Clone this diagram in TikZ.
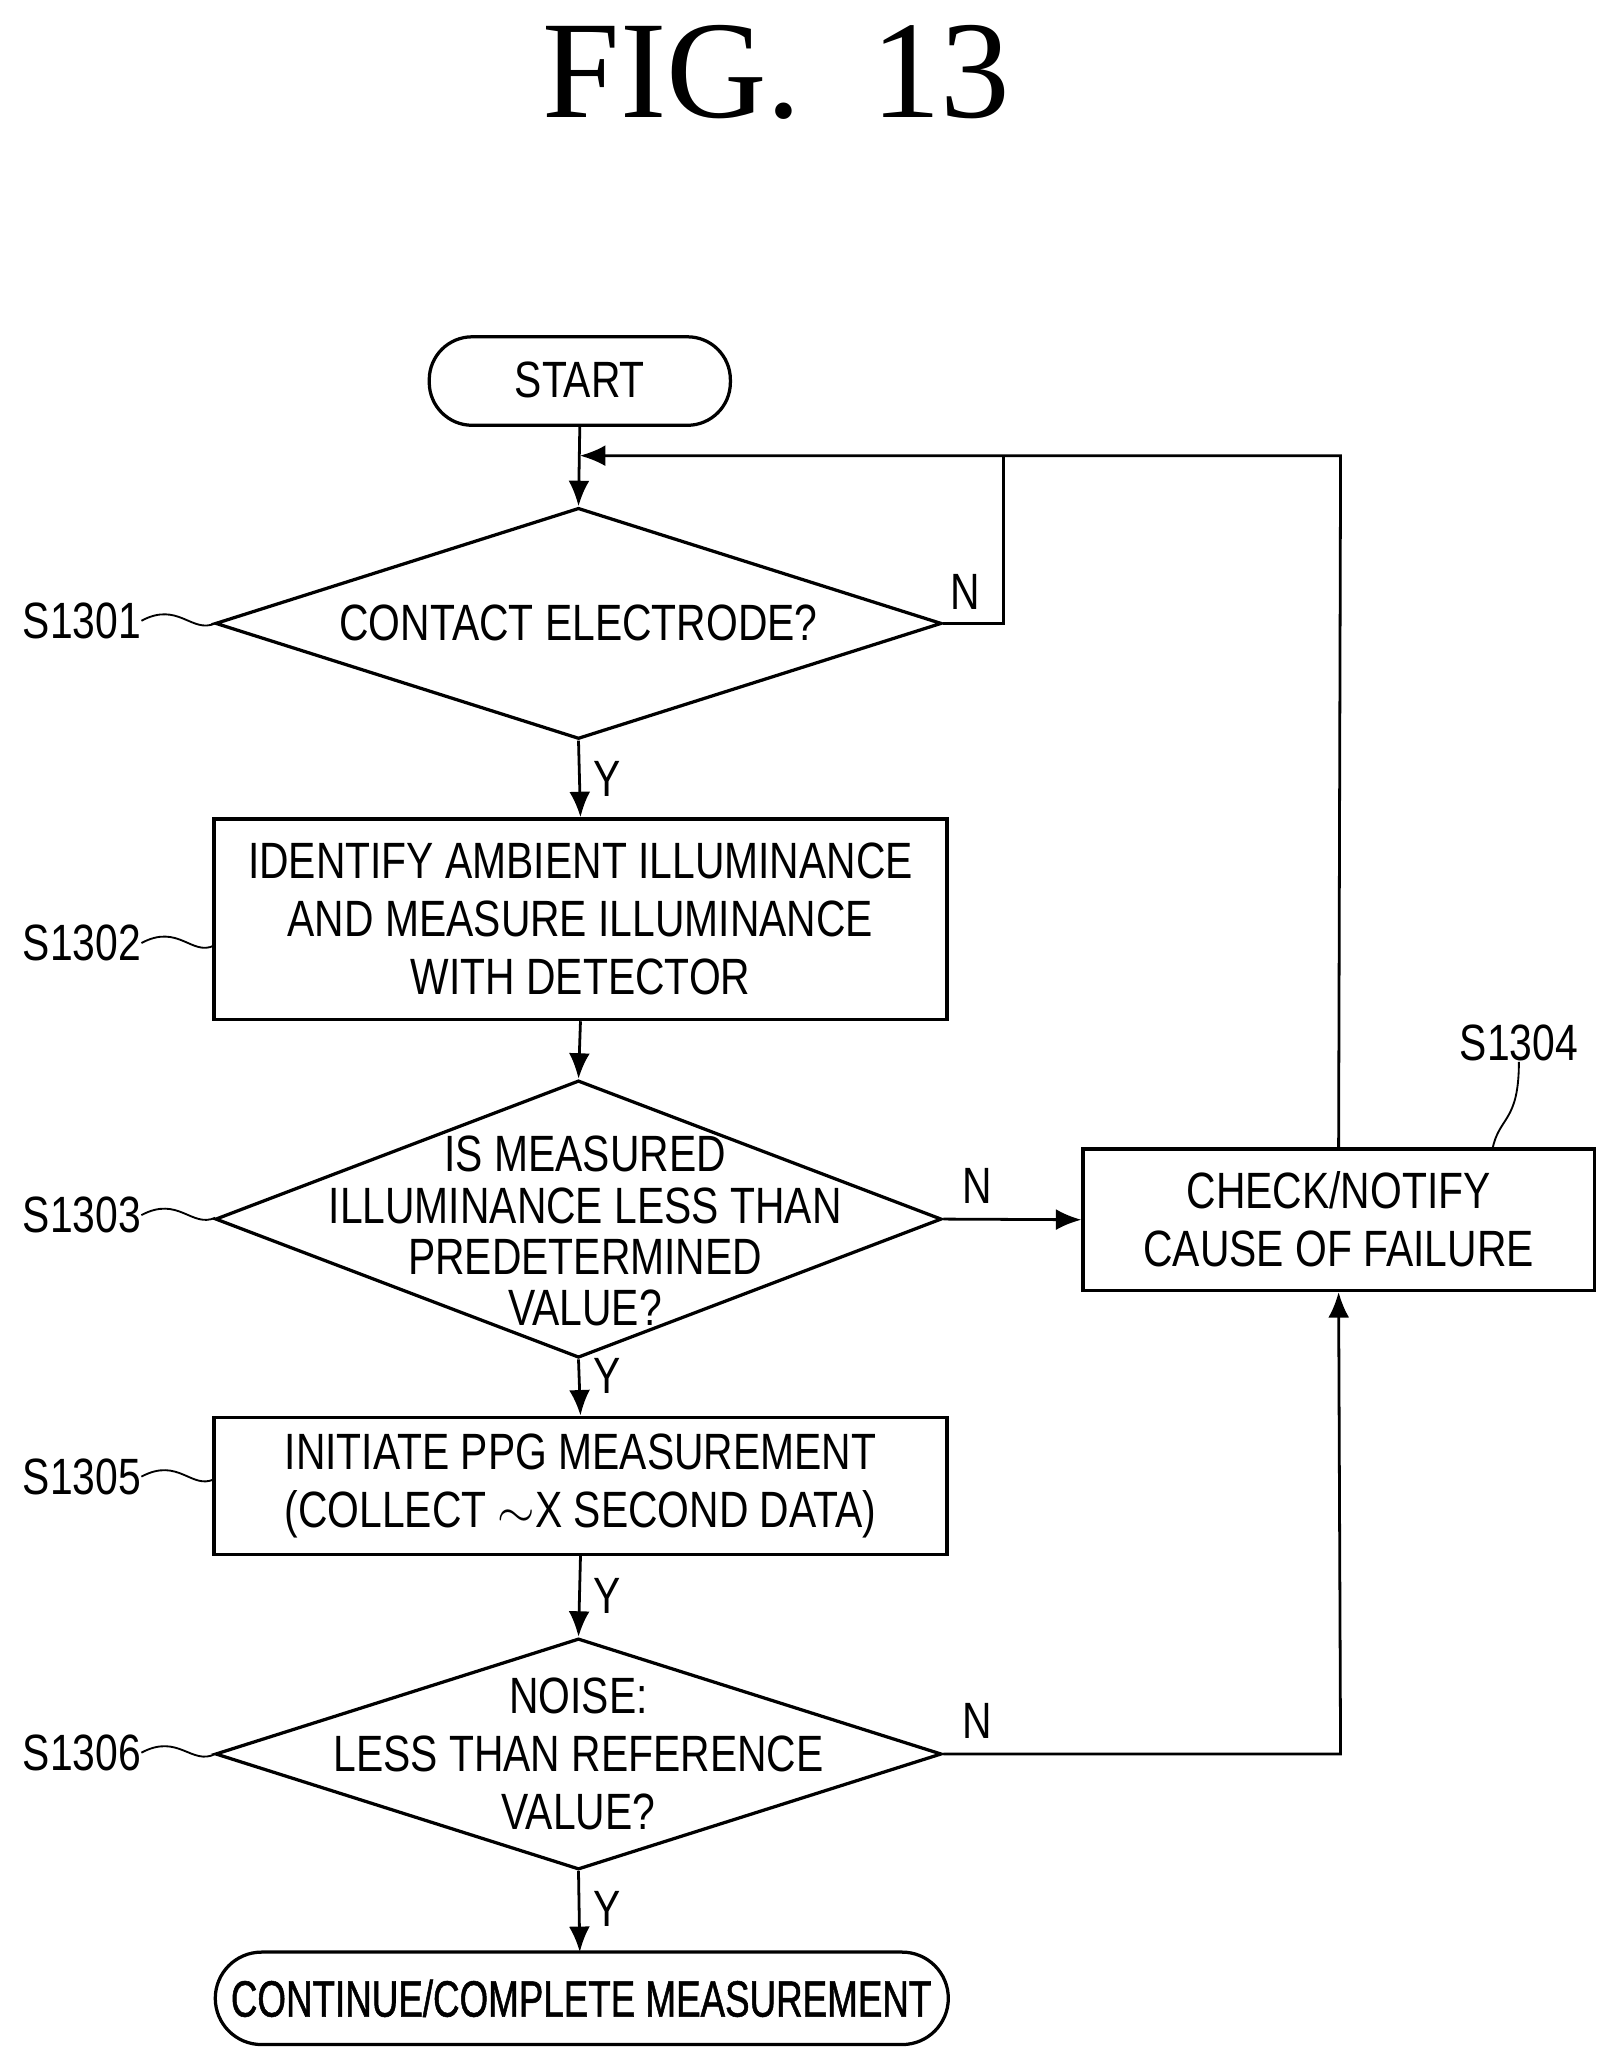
\documentclass[tikz,border=0pt]{standalone}
\usepackage{fontspec}
\setmainfont{Liberation Sans}[FakeStretch=0.8]
\newfontfamily\titlefont{Liberation Serif}
\newfontfamily\narrowfont{Liberation Sans}[FakeStretch=0.72,FakeBold=1]
\usetikzlibrary{shapes.geometric,arrows.meta}
\begin{document}
\begin{tikzpicture}[x=0.02cm,y=-0.02cm,
  every node/.style={font=\fontsize{22}{26}\selectfont},
  box/.style={draw,line width=1.4pt,rectangle,inner sep=0},
  dia/.style={draw,line width=1.4pt,diamond,inner sep=0,shape aspect=3.14},
  txt/.style={align=center,inner sep=0},
  ar/.style={line width=1.2pt,-{Latex[length=11pt,width=9pt]}},
  ln/.style={line width=1.2pt},
  lead/.style={line width=0.8pt}]
\useasboundingbox (0,0) rectangle (1221,1565);
\node[font=\titlefont\fontsize{60}{64}\selectfont] (title) at (588,55) {FIG.\ \ 13};
% start
\draw[line width=1.4pt,rounded corners=0.65cm] (325,255) rectangle (553,322);
\node[txt] (start) at (439,288) {START};
\coordinate (startb) at (439,322);
% diamond 1
\node[dia,minimum width=11cm,minimum height=3.5cm] (d1) at (438,472) {};
\node[txt] at (d1) {CONTACT ELECTRODE?};
\draw[ar] (startb) -- (d1.north);
% box2
\node[box,minimum width=11.1cm,minimum height=3.04cm] (b2) at (439.5,696) {};
\node[txt] at (b2) {IDENTIFY AMBIENT ILLUMINANCE\\[-1pt]AND MEASURE ILLUMINANCE\\[-1pt]WITH DETECTOR};
\draw[ar] (d1.south) -- (b2.north);
\node[txt] at (460,590) {Y};
% diamond 2
\node[dia,minimum width=11cm,minimum height=4.2cm] (d2) at (438,923) {};
\node[txt,font=\fontsize{22}{22}\selectfont] at (443,932) {IS MEASURED\\ILLUMINANCE LESS THAN\\PREDETERMINED\\VALUE?};
\draw[ar] (b2.south) -- (d2.north);
% box4
\node[box,minimum width=7.74cm,minimum height=2.14cm] (b4) at (1013.5,923.5) {};
\node[txt] at (b4) {CHECK/NOTIFY\\[-1pt]CAUSE OF FAILURE};
\draw[ar] (d2.east) -- (b4.west);
\node[txt] at (740,898) {N};
% box5
\node[box,minimum width=11.1cm,minimum height=2.08cm] (b5) at (439.5,1125) {};
\node[txt] at (b5) {INITIATE PPG MEASUREMENT\\[-1pt](COLLECT $\sim$X SECOND DATA)};
\draw[ar] (d2.south) -- (b5.north);
\node[txt] at (460,1042) {Y};
% diamond 3
\node[dia,minimum width=11cm,minimum height=3.5cm] (d3) at (438,1328) {};
\node[txt] at (d3) {NOISE:\\[-1pt]LESS THAN REFERENCE\\[-1pt]VALUE?};
\draw[ar] (b5.south) -- (d3.north);
\node[txt] at (460,1208) {Y};
% end
\draw[line width=1.4pt,rounded corners=0.7cm] (163,1478) rectangle (718,1548);
\node[txt,font=\narrowfont\fontsize{22}{26}\selectfont] (end) at (440,1513) {CONTINUE/COMPLETE MEASUREMENT};
\coordinate (endt) at (439,1478);
\draw[ar] (d3.south) -- (endt);
\node[txt] at (460,1445) {Y};
% loops
\coordinate (j) at (439,345);
\coordinate (k) at (760,345);
\coordinate (m) at (1015,345);
\draw[ln] (d1.east) -- (760,472) -- (k);
\node[txt] at (731,448) {N};
\draw[ar] (b4.north) -- (m) -- (j);
\draw[ar] (d3.east) -- (1015,1328) -- (b4.south);
\node[txt] at (740,1303) {N};
% labels
\node[txt] (l1) at (62,470) {S1301};
\node[txt] (l2) at (62,714) {S1302};
\node[txt] (l3) at (62,920) {S1303};
\node[txt] (l5) at (62,1118) {S1305};
\node[txt] (l6) at (62,1327) {S1306};
\node[txt] (l4) at (1150,790) {S1304};
\draw[lead] (l1.east) .. controls (135,455) and (145,480) .. (163,472);
\draw[lead] (l2.east) .. controls (135,699) and (145,724) .. (162,716);
\draw[lead] (l3.east) .. controls (135,905) and (145,930) .. (163,922);
\draw[lead] (l5.east) .. controls (135,1103) and (145,1128) .. (162,1120);
\draw[lead] (l6.east) .. controls (135,1312) and (145,1337) .. (163,1328);
\draw[lead] (l4.south) .. controls (1150,850) and (1135,845) .. (1130,870);
\end{tikzpicture}
\end{document}
